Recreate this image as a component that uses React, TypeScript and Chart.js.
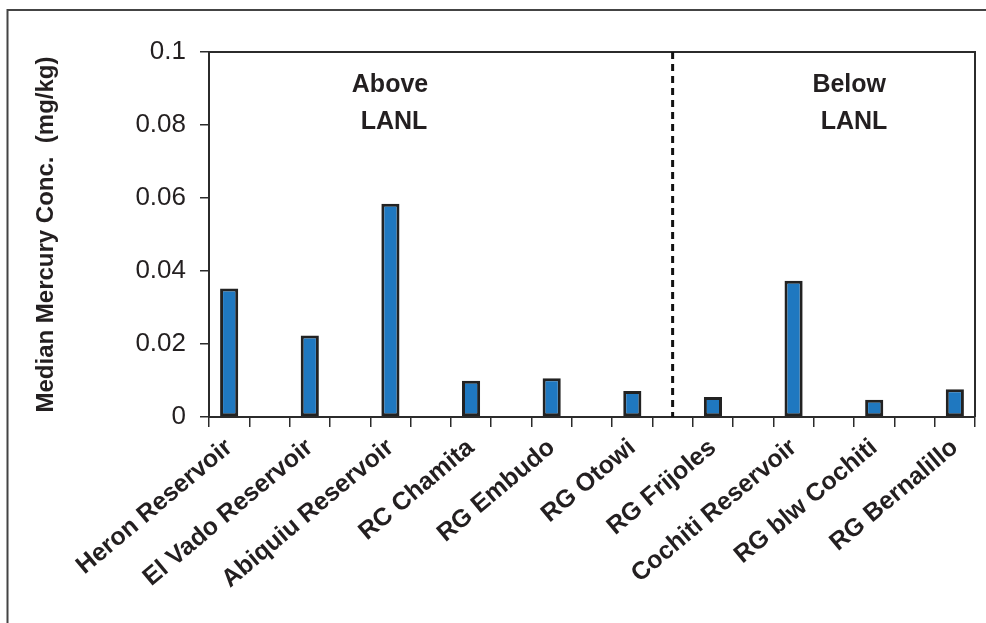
import React, { useEffect, useRef } from "react";
import { Chart, registerables } from "chart.js";

Chart.register(...registerables);

// ---- data ----
const sites = [
  "Heron Reservoir",
  "El Vado Reservoir",
  "Abiquiu Reservoir",
  "RC Chamita",
  "RG Embudo",
  "RG Otowi",
  "RG Frijoles",
  "Cochiti Reservoir",
  "RG blw Cochiti",
  "RG Bernalillo",
];
const medianMercury = [0.0352, 0.0223, 0.0584, 0.0099, 0.0106, 0.0071, 0.0055, 0.0373, 0.0047, 0.0076];
const yTickValues = [0, 0.02, 0.04, 0.06, 0.08, 0.1];
const dividerAfterSite = 5; // between RG Otowi and RG Frijoles
const regionTitles = ["Above", "Below"];
const regionSubtitle = "LANL";
const regionTitleSlots = [3.99, 15.38];
const regionSubtitleSlots = [4.09, 15.5];
const regionTitleValue = 0.091;
const regionSubtitleValue = 0.0807;
const yAxisTitle = "Median Mercury Conc.  (mg/kg)";

// slots: sites at even positions, blank gaps at odd positions
const slotLabels: string[] = [];
const slotValues: (number | null)[] = [];
sites.forEach((s, i) => {
  if (i > 0) {
    slotLabels.push("");
    slotValues.push(null);
  }
  slotLabels.push(s);
  slotValues.push(medianMercury[i]);
});
const dividerSlot = dividerAfterSite * 2 + 1;

const FONT = "'Liberation Sans', Arial, Helvetica, sans-serif";
const TEXT = "#231f20";
const LINE = "#2b2b2b";

const decor = {
  id: "decor",
  beforeDraw(chart: any) {
    const { ctx, width, height } = chart;
    ctx.save();
    ctx.fillStyle = "#ffffff";
    ctx.fillRect(0, 0, width, height);
    ctx.strokeStyle = "#444444";
    ctx.lineWidth = 2;
    ctx.beginPath();
    ctx.moveTo(7.5, height + 20);
    ctx.lineTo(7.5, 10);
    ctx.lineTo(width + 20, 10);
    ctx.stroke();
    ctx.restore();
  },
  afterDatasetsDraw(chart: any) {
    const { ctx, chartArea: a, scales } = chart;
    const x = scales.x;
    const y = scales.y;
    ctx.save();
    // plot box top & right
    ctx.strokeStyle = LINE;
    ctx.lineWidth = 2;
    ctx.beginPath();
    ctx.moveTo(a.left, a.top);
    ctx.lineTo(a.right, a.top);
    ctx.lineTo(a.right, a.bottom);
    ctx.stroke();
    // divider
    const dx = x.getPixelForValue(dividerSlot);
    ctx.strokeStyle = "#111111";
    ctx.lineWidth = 3;
    ctx.setLineDash([7, 5]);
    ctx.beginPath();
    ctx.moveTo(dx, y.getPixelForValue(yTickValues[yTickValues.length - 1]));
    ctx.lineTo(dx, y.getPixelForValue(0));
    ctx.stroke();
    ctx.setLineDash([]);
    // region annotations
    ctx.fillStyle = TEXT;
    ctx.font = `bold 25px ${FONT}`;
    ctx.textAlign = "center";
    ctx.textBaseline = "middle";
    regionTitles.forEach((t, i) => {
      ctx.fillText(t, x.getPixelForValue(regionTitleSlots[i]), y.getPixelForValue(regionTitleValue));
      ctx.fillText(regionSubtitle, x.getPixelForValue(regionSubtitleSlots[i]), y.getPixelForValue(regionSubtitleValue));
    });
    ctx.restore();
  },
};

export default function App() {
  const ref = useRef<HTMLCanvasElement | null>(null);
  useEffect(() => {
    if (!ref.current) return;
    const chart = new Chart(ref.current, {
      type: "bar",
      data: {
        labels: slotLabels,
        datasets: [
          {
            data: slotValues,
            backgroundColor: "#1f78c0",
            borderColor: "#222222",
            borderWidth: 3,
            borderSkipped: false,
            categoryPercentage: 1,
            barPercentage: 0.45,
          },
        ],
      },
      options: {
        animation: false,
        responsive: false,
        maintainAspectRatio: false,
        devicePixelRatio: 1,
        layout: { padding: { top: 52, right: 11, left: 0, bottom: 0 } },
        plugins: {
          legend: { display: false },
          tooltip: { enabled: false },
        },
        scales: {
          x: {
            type: "category",
            offset: true,
            grid: {
              offset: true,
              drawOnChartArea: false,
              drawTicks: true,
              tickLength: 10,
              color: LINE,
              lineWidth: 1.5,
            },
            border: { display: true, color: LINE, width: 2 },
            ticks: {
              autoSkip: false,
              minRotation: 40,
              maxRotation: 40,
              padding: 6,
              color: TEXT,
              font: { family: FONT, size: 25, weight: "bold" },
            },
            afterFit(scale: any) {
              scale.height = 206;
            },
          },
          y: {
            min: 0,
            max: 0.1,
            grid: {
              drawOnChartArea: false,
              drawTicks: true,
              tickLength: 9,
              color: LINE,
              lineWidth: 1.5,
            },
            border: { display: true, color: LINE, width: 2 },
            afterBuildTicks(scale: any) {
              scale.ticks = yTickValues.map((v) => ({ value: v }));
            },
            ticks: {
              padding: 14,
              color: TEXT,
              font: { family: FONT, size: 26 },
              callback: (v: any) => String(parseFloat(Number(v).toFixed(2))),
            },
            title: {
              display: true,
              text: yAxisTitle,
              color: TEXT,
              font: { family: FONT, size: 24, weight: "bold" },
              padding: { top: 32, bottom: 0 },
            },
            afterFit(scale: any) {
              scale.width = 209;
            },
          },
        },
      },
      plugins: [decor],
    } as any);
    return () => chart.destroy();
  }, []);
  return (
    <div style={{ position: "absolute", left: 0, top: 0, width: 986, height: 623, overflow: "hidden" }}>
      <canvas ref={ref} width={986} height={623} style={{ display: "block", width: 986, height: 623 }} />
    </div>
  );
}
